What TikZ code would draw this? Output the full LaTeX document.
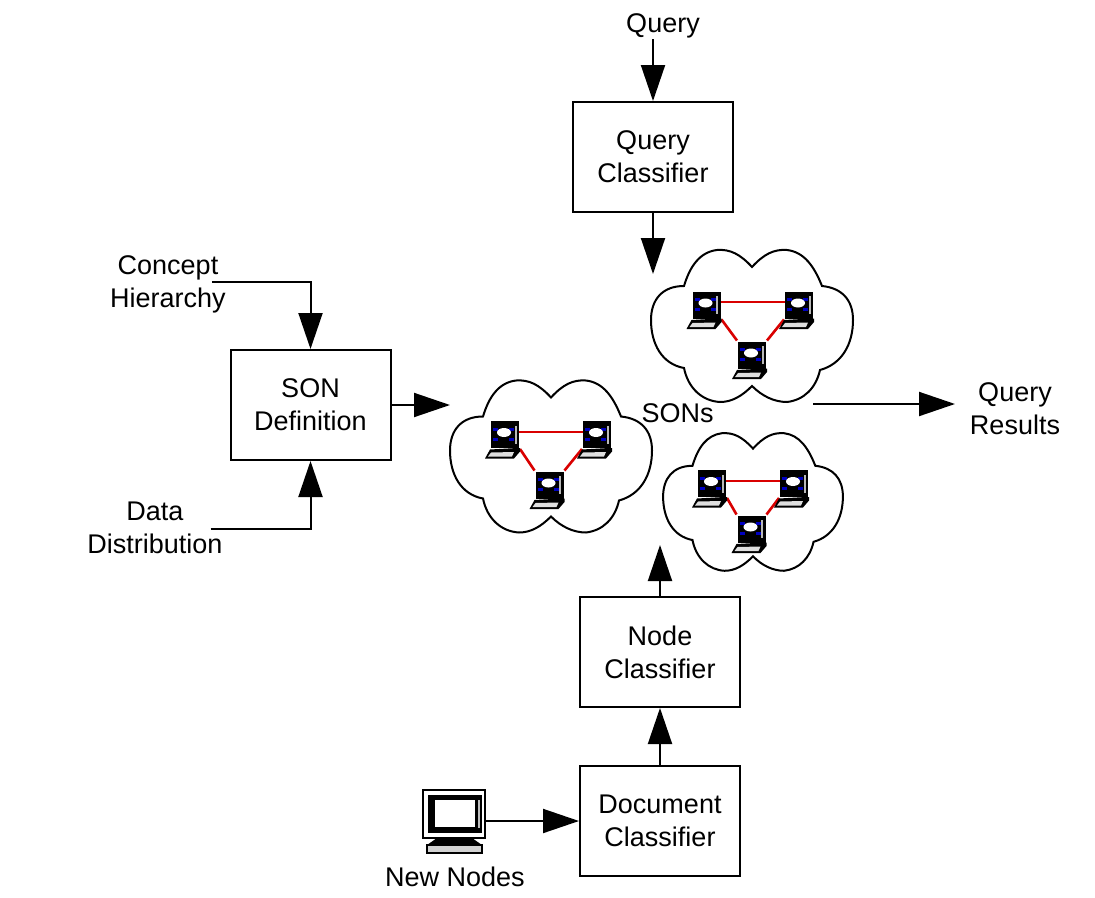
\documentclass[tikz,border=0pt]{standalone}
\usepackage{fontspec}
\setmainfont{Liberation Sans}
\usetikzlibrary{arrows.meta}
\tikzset{
    cloudpart/.pic={
        \draw[black,line width=2pt,fill=white] (0,-59)
            .. controls (-12,-72) and (-22,-77) .. (-35,-76)
            .. controls (-52,-74) and (-62,-60) .. (-68,-40)
            .. controls (-90,-40) and (-101,-26) .. (-101,-6)
            .. controls (-101,18) and (-90,38) .. (-68,42)
            .. controls (-64,62) and (-50,75) .. (-32,76)
            .. controls (-20,76) and (-10,70) .. (0,60)
            .. controls (10,70) and (22,76) .. (35,76)
            .. controls (52,74) and (64,62) .. (68,44)
            .. controls (90,38) and (101,18) .. (101,-6)
            .. controls (101,-26) and (90,-38) .. (70,-40)
            .. controls (62,-60) and (52,-74) .. (35,-76)
            .. controls (22,-77) and (12,-72) .. (0,-59) -- cycle;
    },
    laptoppart/.pic={
        \fill[black] (-14,-13.5) rectangle (14,13.5);
        \fill[gray!55] (9.5,-9) rectangle (11.5,9);
        \fill[blue!75!black] (-12,-7) rectangle (-7,-4);
        \fill[blue!75!black] (4,-7) rectangle (9,-4);
        \fill[blue!75!black] (-12,3) rectangle (-7,6);
        \fill[blue!75!black] (4,3) rectangle (9,6);
        \fill[white] (-1,-2) ellipse (7pt and 4.5pt);
        \fill[black] (-15,15) -- (12,13.5) -- (15,13.5) -- (15,17) -- (9,24) -- (-20,24) -- cycle;
        \fill[gray!25] (-14,18) -- (9,17.5) -- (7,22) -- (-17,22) -- cycle;
    },
    computerpart/.pic={
        \draw[black,line width=2pt,fill=white] (-31,-24) rectangle (31,24);
        \fill[black] (-26,-19) rectangle (28,19);
        \fill[white] (-19,-14) rectangle (21,13);
        \fill[gray!50] (24,-14) rectangle (26,14);
        \fill[black] (-17,24) -- (18,24) -- (28,31) -- (-27,31) -- cycle;
        \draw[black,line width=1.5pt,fill=gray!35] (-27,31) rectangle (28,39);
    }
}
\begin{document}
\begin{tikzpicture}[x=1pt,y=-1pt,line width=2pt,font=\fontsize{27}{33}\selectfont]
    \tikzstyle{classbox}=[draw=black,line width=2pt,minimum width=160pt,minimum height=110pt,align=center,inner sep=0pt]
    \tikzstyle{plain}=[align=center,inner sep=0pt]
    \tikzstyle{laptop}=[minimum width=28pt,minimum height=27pt,inner sep=0pt]
    \tikzstyle{flow}=[-{Triangle[length=36pt,width=24pt]},line width=2pt,black]
    \tikzstyle{redlink}=[red!85!black,line width=2pt]
    \tikzstyle{redslant}=[redlink,line width=2.6pt]

    \useasboundingbox (0,0) rectangle (1095,897);

    % clouds
    \pic at (752,326) {cloudpart};
    \pic at (551,456.5) {cloudpart};
    \pic[xscale=0.89,yscale=0.905] at (753,502) {cloudpart};

    % boxes
    \node[classbox] (queryclass) at (653,157) {Query\\Classifier};
    \node[classbox] (sondef) at (310.5,405) {SON\\Definition};
    \node[classbox] (nodeclass) at (660,652) {Node\\Classifier};
    \node[classbox] (docclass) at (660,821) {Document\\Classifier};

    % texts
    \node[plain] (query) at (663,26) {Query};
    \node[plain] (concept) at (168,284) {Concept\\Hierarchy};
    \node[plain] (datadist) at (155,528) {Data\\Distribution};
    \node[plain] (results) at (1015,408.5) {Query\\Results};
    \node[plain] (sons) at (677.5,413) {SONs};
    \node[plain] (newnodes) at (455,877) {New Nodes};

    % laptops of the three clouds
    \node[laptop] (topa) at (706.5,305) {};
    \node[laptop] (topb) at (799,305) {};
    \node[laptop] (topc) at (752,355) {};
    \node[laptop] (lefta) at (505,434.5) {};
    \node[laptop] (leftb) at (597,434.5) {};
    \node[laptop] (leftc) at (549.5,485) {};
    \node[laptop] (lowa) at (712,483.5) {};
    \node[laptop] (lowb) at (794,483.5) {};
    \node[laptop] (lowc) at (751.5,529) {};
    \foreach \lana/\lanb/\lanc in {topa/topb/topc,lefta/leftb/leftc,lowa/lowb/lowc} {
        \draw[redlink] ([yshift=3pt]\lana.center) -- ([yshift=3pt]\lanb.center);
        \draw[redslant] (\lana.south east) -- (\lanc.north west);
        \draw[redslant] (\lanb.south west) -- (\lanc.north east);
        \pic at (\lana) {laptoppart};
        \pic at (\lanb) {laptoppart};
        \pic at (\lanc) {laptoppart};
    }

    % new nodes computer
    \node[minimum width=62pt,minimum height=48pt,inner sep=0pt] (computer) at (454,814) {};
    \pic at (computer) {computerpart};

    % free ends
    \coordinate (queryin) at (653,274);
    \coordinate (sonin) at (450,405);
    \coordinate (nodein) at (660,545);
    \coordinate (resultout) at (813,404);
    \coordinate (resultin) at (955,404);

    % connectors
    \draw[flow] (query.south -| queryclass.north) -- (queryclass.north);
    \draw[flow] (queryclass.south) -- (queryin);
    \draw[flow] ([xshift=-15pt,yshift=2.5pt]concept.east) -| (sondef.north);
    \draw[flow] ([xshift=-13pt,yshift=-1pt]datadist.east) -| (sondef.south);
    \draw[flow] (sondef.east) -- (sonin);
    \draw[flow] (nodeclass.north) -- (nodein);
    \draw[flow] (docclass.north) -- (nodeclass.south);
    \draw[flow] (computer.east |- docclass.west) -- (docclass.west);
    \draw[flow] (resultout) -- (resultin);
\end{tikzpicture}
\end{document}
